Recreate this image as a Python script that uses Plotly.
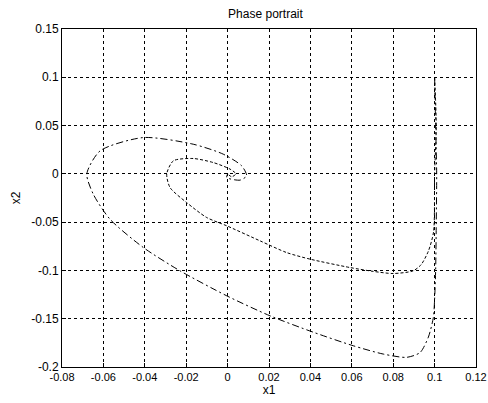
import plotly.graph_objects as go

# Outer trajectory (dash-dot)
x_outer = [0.1, 0.1005, 0.101, 0.1008, 0.1005, 0.1, 0.0994, 0.097, 0.093, 0.0865, 0.0752, 0.0607,
           0.0414, 0.0205, -0.0004, -0.023, -0.0407, -0.0568, -0.0649, -0.068, -0.0616, -0.0407,
           -0.0166, -0.0021, 0.0068, 0.0092, 0.006, -0.0004, 0.0]
y_outer = [0.1, 0.05, 0.0, -0.05, -0.1, -0.13, -0.1487, -0.169, -0.185, -0.190, -0.1866, -0.178,
           -0.164, -0.147, -0.1263, -0.1004, -0.0763, -0.047, -0.021, 0.0, 0.0238, 0.0376,
           0.0307, 0.0204, 0.0083, -0.002, -0.0065, -0.0038, 0.0]

# Inner trajectory (dashed)
x_inner = [0.1, 0.1008, 0.1, 0.0995, 0.097, 0.0935, 0.0897, 0.08, 0.0704, 0.0591, 0.0398, 0.0285,
           0.0157, -0.0004, -0.0101, -0.0198, -0.0278, -0.0294, -0.0262, -0.0166, -0.0069,
           0.0012, 0.004, 0.002, 0.0]
y_inner = [0.1, 0.05, 0.0, -0.06, -0.08, -0.094, -0.1004, -0.1032, -0.101, -0.097, -0.0883, -0.0815,
           -0.0694, -0.0538, -0.0452, -0.0297, -0.0142, 0.0, 0.0135, 0.0159, 0.0117,
           0.0049, 0.0, -0.003, 0.0]

x_ticks = [-0.08, -0.06, -0.04, -0.02, 0, 0.02, 0.04, 0.06, 0.08, 0.1, 0.12]
x_tick_text = ["-0.08", "-0.06", "-0.04", "-0.02", "0", "0.02", "0.04", "0.06", "0.08", "0.1", "0.12"]
y_ticks = [-0.2, -0.15, -0.1, -0.05, 0, 0.05, 0.1, 0.15]
y_tick_text = ["-0.2", "-0.15", "-0.1", "-0.05", "0", "0.05", "0.1", "0.15"]

fig = go.Figure()
fig.add_trace(go.Scatter(x=x_outer, y=y_outer, mode="lines",
                         line=dict(color="black", width=1, dash="7px,3px,2px,3px", shape="spline", smoothing=0.7),
                         showlegend=False))
fig.add_trace(go.Scatter(x=x_inner, y=y_inner, mode="lines",
                         line=dict(color="black", width=1, dash="3px,2px", shape="spline", smoothing=0.7),
                         showlegend=False))

font = dict(family="Liberation Sans, Arial, sans-serif", size=12, color="black")
xtick_font = dict(family="Liberation Sans, Arial, sans-serif", size=11, color="black")
fig.update_layout(
    width=488, height=403,
    margin=dict(l=62, r=12, t=29, b=36),
    paper_bgcolor="white", plot_bgcolor="white",
    font=font,
    title=dict(text="Phase portrait", x=0.544, xanchor="center", y=0.965, yanchor="middle",
               font=font),
    xaxis=dict(range=[-0.08, 0.12], tickvals=x_ticks, ticktext=x_tick_text, automargin=False,
               tickfont=xtick_font,
               showgrid=True, gridcolor="black", griddash="dot", gridwidth=1,
               showline=True, linecolor="black", linewidth=1, mirror=True,
               ticks="inside", ticklen=4, tickcolor="black", zeroline=False,
               title=dict(text="x1", standoff=3, font=font)),
    yaxis=dict(range=[-0.2, 0.15], tickvals=y_ticks, ticktext=y_tick_text, automargin=False,
               showgrid=True, gridcolor="black", griddash="dot", gridwidth=1,
               showline=True, linecolor="black", linewidth=1, mirror=True,
               ticks="inside", ticklen=4, tickcolor="black", zeroline=False,
               title=dict(text="x2", standoff=8, font=font)),
)
fig.write_html("out.html")
